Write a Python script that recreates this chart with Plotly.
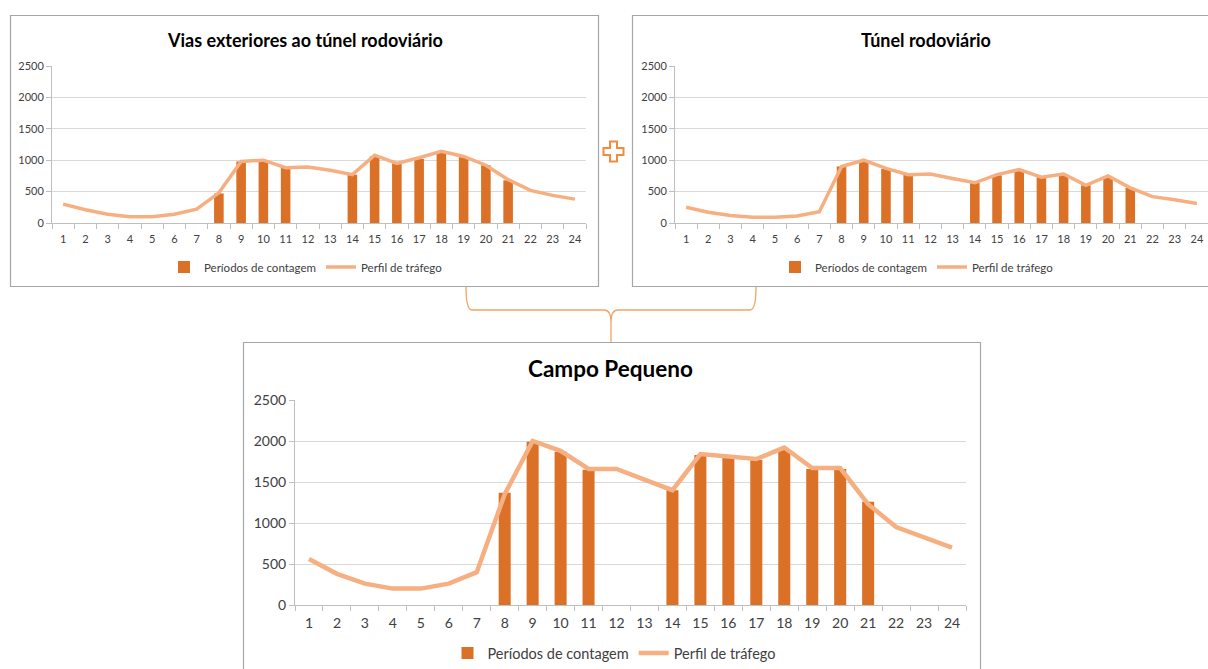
import plotly.graph_objects as go

W, H = 1208, 669

hours = [str(h) for h in range(1, 25)]

# Vias exteriores ao túnel rodoviário
vias_perfil = [300, 210, 140, 100, 100, 140, 220, 480, 980, 1000, 880, 890,
               840, 770, 1080, 950, 1040, 1140, 1060, 920, 690, 520, 440, 380]
vias_contagem = [None, None, None, None, None, None, None, 470, 980, 990, 880, None,
                 None, 770, 1060, 950, 1020, 1120, 1050, 920, 680, None, None, None]

# Túnel rodoviário
tunel_perfil = [250, 170, 120, 90, 90, 110, 180, 900, 1000, 870, 770, 780,
                710, 640, 770, 850, 730, 780, 600, 750, 560, 420, 370, 310]
tunel_contagem = [None, None, None, None, None, None, None, 900, 990, 860, 770, None,
                  None, 640, 760, 840, 730, 770, 600, 730, 560, None, None, None]

# Campo Pequeno
campo_perfil = [560, 380, 260, 200, 200, 260, 400, 1350, 2000, 1880, 1660, 1660,
                1530, 1400, 1840, 1810, 1780, 1920, 1670, 1670, 1230, 950, 820, 700]
campo_contagem = [None, None, None, None, None, None, None, 1370, 1990, 1870, 1650, None,
                  None, 1400, 1830, 1800, 1770, 1890, 1660, 1660, 1260, None, None, None]

titles = ["Vias exteriores ao túnel rodoviário", "Túnel rodoviário", "Campo Pequeno"]
bar_name = "Períodos de contagem"
line_name = "Perfil de tráfego"

BAR_C = "#DA7126"
LINE_C = "#F6AF80"
FONT = "Lato"

def px(x):
    return x / W

def py(y):
    return 1 - y / H

fig = go.Figure()

panels = [
    dict(perfil=vias_perfil, cont=vias_contagem, xd=(52, 586), yd=(66, 223), ax="", fs=11,
         title_xy=(305, 40), tfs=18, leg_xy=(306, 267), lw=3.5, so=6),
    dict(perfil=tunel_perfil, cont=tunel_contagem, xd=(675, 1208), yd=(66, 223), ax="2", fs=11,
         title_xy=(926, 40), tfs=18, leg_xy=(917, 267), lw=3.5, so=6),
    dict(perfil=campo_perfil, cont=campo_contagem, xd=(295, 966), yd=(400, 605), ax="3", fs=14,
         title_xy=(611, 368), tfs=22.5, leg_xy=(614, 653), lw=4.5, so=5),
]

for i, p in enumerate(panels):
    leg = "legend" if i == 0 else f"legend{i+1}"
    xa = "x" + p["ax"]
    ya = "y" + p["ax"]
    fig.add_trace(go.Bar(x=hours, y=p["cont"], name=bar_name, marker_color=BAR_C,
                         marker_line_width=0, xaxis=xa, yaxis=ya, legend=leg))
    fig.add_trace(go.Scatter(x=hours, y=p["perfil"], name=line_name, mode="lines",
                             line=dict(color=LINE_C, width=p["lw"]),
                             xaxis=xa, yaxis=ya, legend=leg))
    xkey = "xaxis" + p["ax"]
    ykey = "yaxis" + p["ax"]
    fig.update_layout(**{
        xkey: dict(domain=[px(p["xd"][0]), px(p["xd"][1])], anchor=ya, type="category",
                   showgrid=False, showline=True, linecolor="#BFBFBF", linewidth=1,
                   ticks="outside", tickson="boundaries", ticklen=5, tickcolor="#BFBFBF",
                   tickangle=0, automargin=False, ticklabelstandoff=p["so"],
                   tickfont=dict(family=FONT, size=p["fs"], color="#404040"),
                   fixedrange=True),
        ykey: dict(domain=[py(p["yd"][1]), py(p["yd"][0])], anchor=xa, range=[0, 2500],
                   dtick=500, showgrid=True, gridcolor="#D9D9D9", gridwidth=1,
                   showline=True, linecolor="#BFBFBF", linewidth=1, zeroline=False,
                   ticks="outside", ticklen=5, tickcolor="#BFBFBF", automargin=False,
                   tickfont=dict(family=FONT, size=p["fs"], color="#404040"),
                   fixedrange=True),
        leg: dict(orientation="h", x=px(p["leg_xy"][0]), y=py(p["leg_xy"][1]),
                  xanchor="center", yanchor="middle", bgcolor="rgba(0,0,0,0)",
                  font=dict(family=FONT, size=p["fs"] + 0.5, color="#404040"),
                  itemwidth=30, tracegroupgap=0),
    })
    fig.add_annotation(text="<b>" + titles[i] + "</b>", xref="paper", yref="paper",
                       x=px(p["title_xy"][0]), y=py(p["title_xy"][1]),
                       xanchor="center", yanchor="middle", showarrow=False,
                       font=dict(family=FONT, size=p["tfs"], color="#000000"))

# chart frames
boxes = [(10.5, 15.5, 598.5, 286.5), (632.5, 15.5, 1215, 286.5), (243.5, 342.5, 980.5, 690)]
for x0, y0, x1, y1 in boxes:
    fig.add_shape(type="rect", xref="paper", yref="paper",
                  x0=px(x0), x1=px(x1), y0=py(y1), y1=py(y0),
                  line=dict(color="#A6A6A6", width=1.2), layer="below")

def path(points_cmds):
    out = []
    for cmd in points_cmds:
        c = cmd[0]
        coords = cmd[1:]
        s = c + " " + " ".join(f"{px(coords[j]):.5f},{py(coords[j+1]):.5f}"
                               for j in range(0, len(coords), 2))
        out.append(s)
    return " ".join(out)

# bracket connector
br = path([
    ("M", 466, 287), ("Q", 466, 310, 472, 310), ("L", 604, 310),
    ("Q", 611, 310, 611, 322), ("L", 611, 342),
    ("M", 611, 322), ("Q", 611, 310, 618, 310), ("L", 750, 310),
    ("Q", 756, 310, 756, 287),
])
fig.add_shape(type="path", xref="paper", yref="paper", path=br,
              line=dict(color="#F4A260", width=1.3))

# plus sign
cx, cy, a, b = 613.5, 151.5, 10, 3.5
plus = path([
    ("M", cx - b, cy - a), ("L", cx + b, cy - a), ("L", cx + b, cy - b), ("L", cx + a, cy - b),
    ("L", cx + a, cy + b), ("L", cx + b, cy + b), ("L", cx + b, cy + a), ("L", cx - b, cy + a),
    ("L", cx - b, cy + b), ("L", cx - a, cy + b), ("L", cx - a, cy - b), ("L", cx - b, cy - b),
]) + " Z"
fig.add_shape(type="path", xref="paper", yref="paper", path=plus,
              line=dict(color="#F08C3C", width=2), fillcolor="white")

fig.update_layout(width=W, height=H, margin=dict(l=0, r=0, t=0, b=0, autoexpand=False),
                  paper_bgcolor="white", plot_bgcolor="white",
                  barmode="overlay", bargap=0.57, showlegend=True,
                  font=dict(family=FONT))

fig.write_html("out.html", config={"displayModeBar": False})
